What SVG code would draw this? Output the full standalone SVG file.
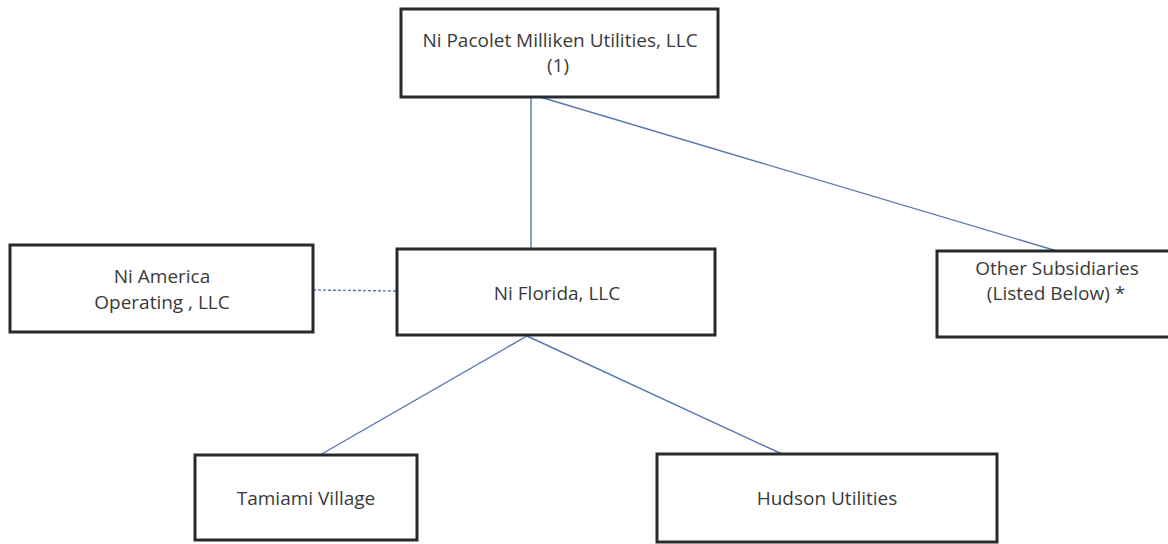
<svg xmlns="http://www.w3.org/2000/svg" width="1168" height="544" viewBox="0 0 1168 544">
<style>
.box{fill:#fff;stroke:#262a2e;stroke-width:3}
.t{font-family:"Open Sans","Liberation Sans",sans-serif;font-size:19px;fill:#3a3a3a;text-anchor:middle}
.c{stroke:#5877b0;stroke-width:1.4;fill:none}
</style>
<rect width="1168" height="544" fill="#fff"/>
<g id="connectors">
<line class="c" x1="531" y1="97" x2="531" y2="248"/>
<line class="c" x1="540" y1="97" x2="1057" y2="251"/>
<line class="c" x1="313" y1="290" x2="397" y2="291" stroke-dasharray="3,2"/>
<line class="c" x1="527" y1="336" x2="320" y2="455"/>
<line class="c" x1="527" y1="336" x2="782" y2="454"/>
</g>
<g id="n-top">
<rect class="box" x="401" y="9" width="317" height="88"/>
<text class="t" x="560" y="47">Ni Pacolet Milliken Utilities, LLC</text>
<text class="t" x="558" y="72">(1)</text>
</g>
<g id="n-america">
<rect class="box" x="10" y="245" width="303" height="87"/>
<text class="t" x="162" y="283">Ni America</text>
<text class="t" x="162" y="309">Operating , LLC</text>
</g>
<g id="n-florida">
<rect class="box" x="397" y="249" width="318" height="86"/>
<text class="t" x="557" y="300">Ni Florida, LLC</text>
</g>
<g id="n-other">
<rect class="box" x="937" y="251" width="240" height="86"/>
<text class="t" x="1057" y="275">Other Subsidiaries</text>
<text class="t" x="1056" y="300">(Listed Below) *</text>
</g>
<g id="n-tamiami">
<rect class="box" x="195" y="455" width="222" height="85"/>
<text class="t" x="306" y="505">Tamiami Village</text>
</g>
<g id="n-hudson">
<rect class="box" x="657" y="454" width="340" height="88"/>
<text class="t" x="827" y="505">Hudson Utilities</text>
</g>
</svg>
